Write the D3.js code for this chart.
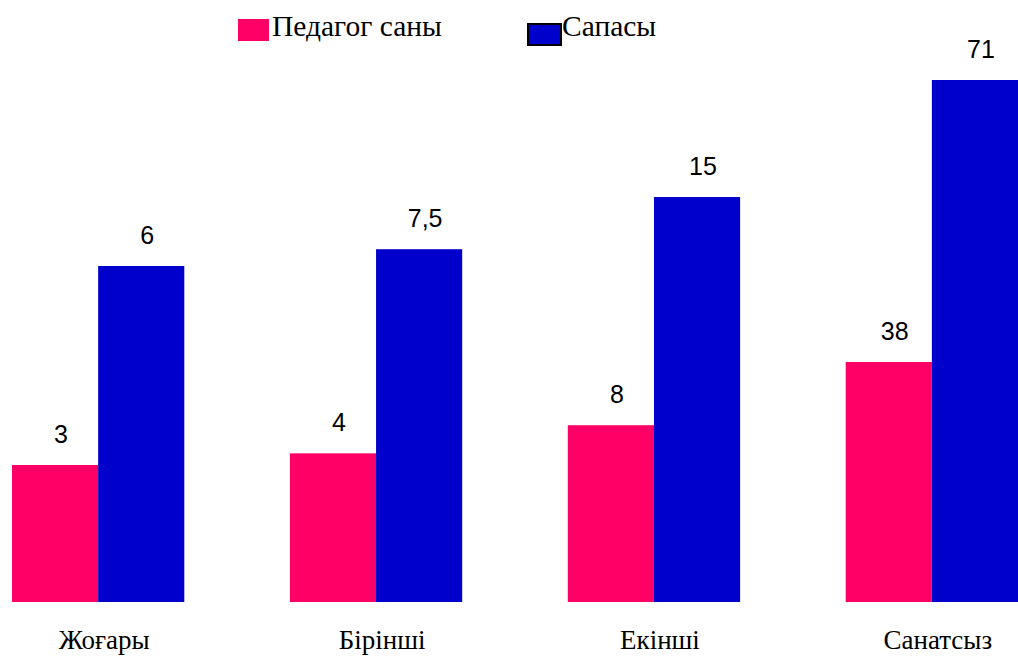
<!DOCTYPE html>
<html>
<head>
<meta charset="utf-8">
<script src="https://cdn.jsdelivr.net/npm/d3@7/dist/d3.min.js"></script>
<style>
  html, body { margin: 0; padding: 0; background: #fff; }
  svg { display: block; }
</style>
</head>
<body>
<script>
const categories = ["Жоғары", "Бірінші", "Екінші", "Санатсыз"];
const teachers = [3, 4, 8, 38];
const quality = [6, 7.5, 15, 71];
const seriesNames = ["Педагог саны", "Сапасы"];
const colors = ["#FF0066", "#0000CC"];

const W = 1018, H = 658;
const baseline = 602;

const svg = d3.select("body").append("svg").attr("width", W).attr("height", H);

const x0 = d3.scaleBand().domain(categories).range([12, 1018]).paddingInner(0.38).paddingOuter(0);
const x1 = d3.scaleBand().domain([0, 1]).range([0, x0.bandwidth()]).padding(0);

// heights in the picture follow a compressed (log-like) scale for each series
const yPink = d3.scaleLog().domain([3, 38]).range([baseline - 137, baseline - 240]);
const yBlue = d3.scaleLog().domain([6, 71]).range([baseline - 336, baseline - 522]);
const yScales = [yPink, yBlue];

const loc = d3.formatLocale({decimal: ",", thousands: " ", grouping: [3], currency: ["", ""]});
const fmt = loc.format("~g");

const rows = categories.map((c, i) => ({cat: c, vals: [teachers[i], quality[i]]}));

const g = svg.selectAll("g.grp").data(rows).join("g")
  .attr("class", "grp")
  .attr("transform", d => `translate(${x0(d.cat)},0)`);

g.selectAll("rect").data(d => d.vals.map((v, k) => ({v, k}))).join("rect")
  .attr("x", d => x1(d.k))
  .attr("width", x1.bandwidth())
  .attr("y", d => yScales[d.k](d.v))
  .attr("height", d => baseline - yScales[d.k](d.v))
  .attr("fill", d => colors[d.k]);

g.selectAll("text.val").data(d => d.vals.map((v, k) => ({v, k}))).join("text")
  .attr("class", "val")
  .attr("x", d => x1(d.k) + x1.bandwidth() / 2 + 6)
  .attr("y", d => yScales[d.k](d.v) - 22)
  .attr("text-anchor", "middle")
  .attr("font-family", "Liberation Sans, Arial, sans-serif")
  .attr("font-size", 25)
  .attr("fill", "#000")
  .text(d => fmt(d.v));

svg.selectAll("text.cat").data(categories).join("text")
  .attr("class", "cat")
  .attr("x", d => x0(d) + x0.bandwidth() / 2 + 6)
  .attr("y", 649)
  .attr("text-anchor", "middle")
  .attr("font-family", "Liberation Serif, Times New Roman, serif")
  .attr("font-size", 27)
  .attr("fill", "#000")
  .text(d => d);

// legend
const legendX = [238, 528];
const leg = svg.selectAll("g.leg").data(seriesNames).join("g").attr("class", "leg");
leg.append("rect")
  .attr("x", (d, i) => legendX[i])
  .attr("y", (d, i) => i === 0 ? 19 : 24)
  .attr("width", (d, i) => i === 0 ? 31 : 33)
  .attr("height", (d, i) => i === 0 ? 22 : 21)
  .attr("fill", (d, i) => colors[i])
  .attr("stroke", (d, i) => i === 0 ? "none" : "#000")
  .attr("stroke-width", 2);
leg.append("text")
  .attr("x", (d, i) => i === 0 ? 272 : 562)
  .attr("y", 36)
  .attr("font-family", "Liberation Serif, Times New Roman, serif")
  .attr("font-size", 29.5)
  .attr("fill", "#000")
  .text(d => d);
</script>
</body>
</html>
